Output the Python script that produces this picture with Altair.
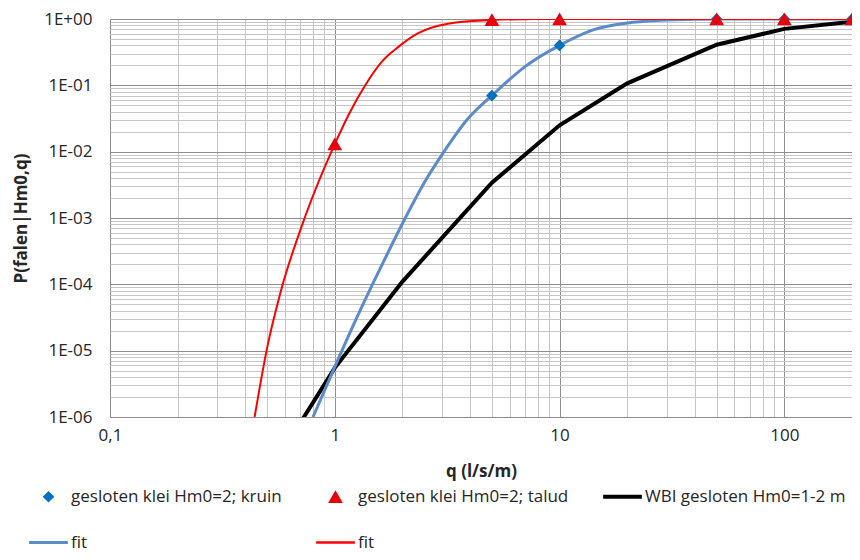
import altair as alt
import pandas as pd

# ---------------- data ----------------
Q_KRUIN = [5, 10, 50, 100, 200]
P_KRUIN = [0.07, 0.40, 1.0, 1.0, 1.0]

Q_TALUD = [1, 5, 10, 50, 100, 200]
P_TALUD = [0.013, 0.97, 1.0, 1.0, 1.0, 1.0]

Q_WBI = [0.5, 1, 2, 5, 10, 20, 50, 100, 200]
P_WBI = [1.3e-7, 5.5e-6, 1.1e-4, 3.4e-3, 0.025, 0.107, 0.41, 0.71, 0.91]

Q_FITB = [0.80, 1.0, 1.25, 1.51, 1.78, 2.12, 2.5, 2.98, 3.9, 5.0, 7.0, 10, 14, 20, 28, 40, 60, 200]
P_FITB = [1.0e-6, 5.7e-6, 3.1e-5, 1.2e-4, 3.75e-4, 1.21e-3, 3.4e-3, 8.7e-3, 0.031, 0.07, 0.19,
          0.40, 0.68, 0.87, 0.955, 0.99, 0.999, 1.0]

Q_FITR = [0.44, 0.5, 0.575, 0.742, 1.0, 1.153, 1.366, 1.62, 1.92, 2.35, 3.19, 5, 7, 10, 200]
P_FITR = [1.0e-6, 1.1e-5, 7.8e-5, 1.1e-3, 0.013, 0.036, 0.10, 0.227, 0.38, 0.61, 0.85,
          0.97, 0.995, 1.0, 1.0]

SERIES_KEYS = ["kruin", "talud", "wbi", "fitb", "fitr"]
SERIES_LABELS = ["gesloten klei Hm0=2; kruin", "gesloten klei Hm0=2; talud",
                 "WBI gesloten Hm0=1-2 m", "fit", "fit"]
SERIES_COLORS = ["#0070C0", "#E8000B", "#000000", "#5B8BC8", "#FF0000"]
# unit-size paths (scaled by sqrt(size)/2); lines use the built-in "stroke"
SERIES_SHAPES = ["M-0.3,0L0,-0.3L0.3,0L0,0.3Z",
                 "M0,-0.34L0.38,0.32L-0.38,0.32Z",
                 "stroke", "stroke", "stroke"]

X_MAJOR = [0.1, 1, 10, 100]
X_LABELS = ["0,1", "1", "10", "100"]
Y_MAJOR = [1e-6, 1e-5, 1e-4, 1e-3, 1e-2, 1e-1, 1]
Y_LABELS = ["1E-06", "1E-05", "1E-04", "1E-03", "1E-02", "1E-01", "1E+00"]

# grid positions (k * 10^d)
x_grid = [k * 10.0 ** d for d in range(-1, 2) for k in range(1, 10)] + [100, 200]
y_grid = [k * 10.0 ** d for d in range(-6, 0) for k in range(1, 10)] + [1]

FONT = "Open Sans"
TXT = "#262626"
SYM = 1500


def label_expr(values, labels):
    expr = "''"
    for v, l in zip(values, labels):
        expr = f"(abs(datum.value - {v!r}) < {v!r} * 1e-6) ? '{l}' : ({expr})"
    return expr


def major_test(values):
    return " || ".join(f"abs(datum.value - {v!r}) < {v!r} * 1e-6" for v in values)


df_pts = pd.DataFrame({
    "q": Q_KRUIN + Q_TALUD,
    "p": P_KRUIN + P_TALUD,
    "s": ["kruin"] * len(Q_KRUIN) + ["talud"] * len(Q_TALUD),
})
df_wbi = pd.DataFrame({"q": Q_WBI, "p": P_WBI})
df_fitb = pd.DataFrame({"q": Q_FITB, "p": P_FITB})
df_fitr = pd.DataFrame({"q": Q_FITR, "p": P_FITR})

xscale = alt.Scale(type="log", domain=[0.1, 200], nice=False)
yscale = alt.Scale(type="log", domain=[1e-6, 1], nice=False)

xaxis = alt.Axis(
    values=x_grid, labelExpr=label_expr(X_MAJOR, X_LABELS), title="q (l/s/m)",
    grid=True,
    gridColor={"condition": {"test": major_test(X_MAJOR), "value": "#8E8E8E"}, "value": "#C6C6C6"},
    ticks=False, domain=False, labelFlush=False, labelOverlap=False, labelPadding=10,
    labelFont=FONT, labelFontSize=17, labelColor=TXT,
    titleFont=FONT, titleFontSize=17, titleFontWeight="bold", titleColor=TXT, titlePadding=20,
)
yaxis = alt.Axis(
    values=y_grid, labelExpr=label_expr(Y_MAJOR, Y_LABELS), title="P(falen|Hm0,q)",
    grid=True,
    gridColor={"condition": {"test": major_test(Y_MAJOR), "value": "#8E8E8E"}, "value": "#C6C6C6"},
    ticks=False, domain=False, labelFlush=False, labelOverlap=False, labelPadding=18,
    labelFont=FONT, labelFontSize=17, labelColor=TXT,
    titleFont=FONT, titleFontSize=17, titleFontWeight="bold", titleColor=TXT, titlePadding=13,
)

X = alt.X("q:Q", scale=xscale, axis=xaxis)
Y = alt.Y("p:Q", scale=yscale, axis=yaxis)

lab_expr = "''"
for k, l in zip(SERIES_KEYS, SERIES_LABELS):
    lab_expr = f"datum.value === '{k}' ? '{l}' : ({lab_expr})"

stroke_expr = "'transparent'"
for k, c in zip(SERIES_KEYS, SERIES_COLORS):
    if k in ("kruin", "talud"):
        continue
    stroke_expr = f"datum.value === '{k}' ? '{c}' : ({stroke_expr})"
width_expr = "datum.value === 'wbi' ? 4 : (datum.value === 'fitr' ? 2.5 : (datum.value === 'fitb' ? 3 : 0))"

legend = alt.Legend(
    title=None, orient="none", legendX=-70, legendY=469, columns=3, direction="horizontal",
    gridAlign="all", columnPadding=26, rowPadding=28, symbolSize=SYM, labelOffset=14,
    labelExpr=lab_expr, labelFont=FONT, labelFontSize=17, labelColor=TXT,
    labelLimit=400,
    symbolStrokeColor=alt.ExprRef(expr=stroke_expr),
    symbolStrokeWidth=alt.ExprRef(expr=width_expr),
)

color = alt.Color("s:N", scale=alt.Scale(domain=SERIES_KEYS, range=SERIES_COLORS), legend=legend)
shape = alt.Shape("s:N", scale=alt.Scale(domain=SERIES_KEYS, range=SERIES_SHAPES), legend=legend)

wbi = alt.Chart(df_wbi).mark_line(color="#000000", strokeWidth=4, clip=True).encode(x=X, y=Y)
fitb = alt.Chart(df_fitb).mark_line(color="#5B8BC8", strokeWidth=3, interpolate="monotone",
                                    clip=True).encode(x=X, y=Y)
fitr = alt.Chart(df_fitr).mark_line(color="#FF0000", strokeWidth=2, interpolate="monotone",
                                    clip=True).encode(x=X, y=Y)
pts = alt.Chart(df_pts).mark_point(filled=True, opacity=1, size=SYM, strokeWidth=0).encode(
    x=X, y=Y, color=color, shape=shape, order=alt.Order("s:N"))

chart = alt.layer(wbi, fitb, fitr, pts).properties(
    width=742, height=398,
    autosize=alt.AutoSizeParams(type="none"),
    padding={"left": 102, "top": 11, "right": 0, "bottom": 135},
    background="white",
).configure_view(stroke=None)

chart.save("out.html", embed_options={"renderer": "svg", "actions": False})
